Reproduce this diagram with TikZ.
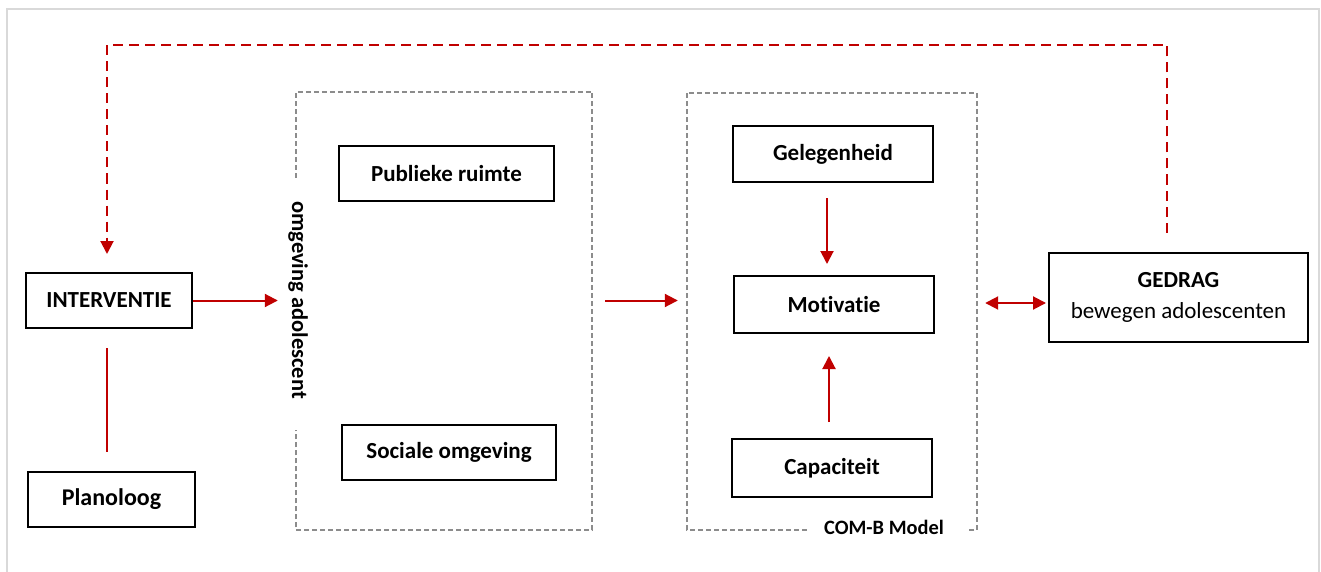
\documentclass[tikz,border=0pt]{standalone}
\usepackage{fontspec}
\setmainfont[Ligatures={NoCommon}]{Carlito}
\usetikzlibrary{arrows.meta,calc}
\definecolor{cred}{HTML}{C00000}
\definecolor{cgray}{HTML}{8C8C8C}
\definecolor{cframe}{HTML}{D9D9D9}
\begin{document}
\begin{tikzpicture}[x=1pt,y=-1pt,
  box/.style={draw=black,line width=2pt,inner sep=0pt,font=\fontsize{23}{27}\selectfont\bfseries},
  grp/.style={inner sep=0pt},
  grpline/.style={draw=cgray,line width=1.5pt,dash pattern=on 5pt off 3pt},
  redarrow/.style={draw=cred,line width=2pt,-{Triangle[length=13pt,width=13pt]}},
  redboth/.style={draw=cred,line width=2pt,{Triangle[length=13pt,width=13pt]}-{Triangle[length=13pt,width=13pt]}},
  redline/.style={draw=cred,line width=2pt},
  fbk/.style={draw=cred,line width=2pt,dash pattern=on 10pt off 6pt,-{Triangle[length=13pt,width=13pt]}}
]
\useasboundingbox (0,0) rectangle (1321,572);
\draw[cframe,line width=1.5pt] (7,580) -- (7,9) -- (1319,9) -- (1319,580);

% nodes
\node[box,minimum width=166pt,minimum height=55pt] (interv) at (109,300.5) {INTERVENTIE};
\node[box,minimum width=167pt,minimum height=55pt,font=\fontsize{24}{28}\selectfont\bfseries] (plan) at (111.5,499.5) {Planoloog};
\node[grp,minimum width=296pt,minimum height=438pt] (env) at (444,311) {};
\node[box,minimum width=215pt,minimum height=55pt] (pub) at (446.5,173.5) {Publieke ruimte};
\node[box,minimum width=214pt,minimum height=55pt] (soc) at (449,452.5) {Sociale omgeving};
\node[grp,minimum width=290pt,minimum height=437pt] (com) at (832,311.5) {};
\node[box,minimum width=200pt,minimum height=56pt] (geleg) at (833,154) {Gelegenheid};
\node[box,minimum width=200pt,minimum height=57pt] (motiv) at (834,304.5) {Motivatie};
\node[box,minimum width=200pt,minimum height=58pt] (capac) at (832,468) {Capaciteit};
\node[box,minimum width=259pt,minimum height=89pt,align=center,font=\fontsize{23}{31}\selectfont] (gedrag) at (1178.5,297) {\textbf{GEDRAG}\\bewegen adolescenten};

% group outlines
\draw[grpline] ($(env.north west)+(0,86)$) -- (env.north west) -- (env.north east) -- (env.south east) -- (env.south west) -- ($(env.south west)+(0,-100)$);
\node[grp,rotate=-90,font=\fontsize{22.5}{27}\selectfont\bfseries] (envlabel) at (298,300) {omgeving adolescent};
\draw[grpline] ($(com.south west)+(120,0)$) -- (com.south west) -- (com.north west) -- (com.north east) -- (com.south east) -- ($(com.south east)+(-9,0)$);
\node[grp,font=\fontsize{20.4}{24}\selectfont\bfseries] (comlabel) at (884,527) {COM-B Model};

% connectors
\coordinate (fbL) at (107,45);
\draw[fbk,shorten <=19pt,shorten >=18pt] ([xshift=-11.5pt]gedrag.north) |- (fbL) -- (interv.north -| fbL);
\draw[redarrow,shorten >=18pt] (interv.east) -- (env.west |- interv.east);
\draw[redline,shorten <=19pt,shorten >=19pt] (interv.south -| fbL) -- (plan.north -| fbL);
\draw[redarrow,shorten <=13pt,shorten >=9pt] (env.east |- interv.east) -- (com.west |- interv.east);
\draw[redarrow,shorten <=15pt,shorten >=11pt] ([xshift=-6pt]geleg.south) -- ([xshift=-7pt]motiv.north);
\draw[redarrow,shorten <=16pt,shorten >=22pt] ([xshift=-3pt]capac.north) -- ([xshift=-5pt]motiv.south);
\draw[redboth,shorten <=8pt,shorten >=2pt] ([yshift=1.5pt]com.east |- motiv.east) -- ([yshift=1.5pt]gedrag.west |- motiv.east);
\end{tikzpicture}
\end{document}
